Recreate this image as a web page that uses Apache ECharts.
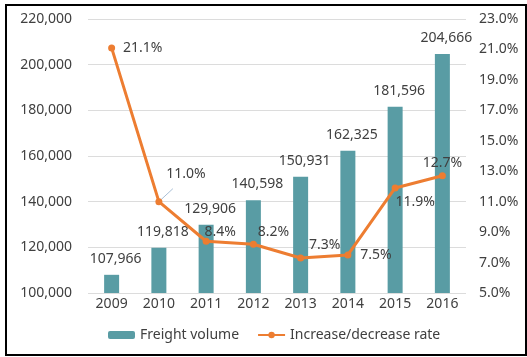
<!DOCTYPE html>
<html>
<head>
<meta charset="utf-8">
<script src="https://cdn.jsdelivr.net/npm/echarts@6/dist/echarts.min.js"></script>
<style>
  html, body { margin: 0; padding: 0; background: #fff; }
  #chart { width: 527px; height: 357px; }
</style>
</head>
<body>
<div id="chart"></div>
<script>
// Yearly freight volume with its year-on-year change
const years = ['2009', '2010', '2011', '2012', '2013', '2014', '2015', '2016'];
const freightVolume = [107966, 119818, 129906, 140598, 150931, 162325, 181596, 204666];
const changeRate = [21.1, 11.0, 8.4, 8.2, 7.3, 7.5, 11.9, 12.7];

// Rate label nudges (dx, dy) from each point, in pixels
const rateLabelShift = [[31, 0], [27, -28], [14, -9], [20, -12], [24, -13], [28, 0], [20, 14], [0, -13]];

const FONT = 'Noto Sans';
const TEXT = '#404040';
const TEAL = '#599CA4';
const ORANGE = '#ED7D31';

const chart = echarts.init(document.getElementById('chart'), null, { renderer: 'canvas' });

chart.setOption({
  animation: false,
  textStyle: { fontFamily: FONT },
  grid: { left: 88, right: 61, top: 19, bottom: 64 },
  legend: {
    left: 103,
    bottom: 10,
    itemGap: 18,
    itemWidth: 27,
    itemHeight: 8,
    textStyle: { fontFamily: FONT, fontSize: 14, color: TEXT },
    data: [
      { name: 'Freight volume', itemStyle: { color: TEAL } },
      { name: 'Increase/decrease rate' }
    ]
  },
  xAxis: {
    type: 'category',
    data: years,
    axisLine: { show: false },
    axisTick: { show: false },
    axisLabel: { fontFamily: FONT, fontSize: 14, color: TEXT, margin: 4 }
  },
  yAxis: [
    {
      type: 'value',
      min: 100000,
      max: 220000,
      interval: 20000,
      axisLine: { show: false },
      axisTick: { show: false },
      splitLine: { lineStyle: { color: '#dcdcdc', width: 1 } },
      axisLabel: {
        fontFamily: FONT, fontSize: 14, color: TEXT, margin: 16,
        formatter: v => v.toLocaleString('en-US')
      }
    },
    {
      type: 'value',
      min: 5,
      max: 23,
      interval: 1,
      axisLine: { show: false },
      axisTick: { show: false },
      splitLine: { show: false },
      axisLabel: {
        fontFamily: FONT, fontSize: 14, color: TEXT, margin: 13,
        formatter: v => (Math.round(v) % 2 === 1 ? v.toFixed(1) + '%' : '')
      }
    }
  ],
  series: [
    {
      name: 'Freight volume',
      type: 'bar',
      yAxisIndex: 0,
      barWidth: 15,
      data: freightVolume,
      itemStyle: { color: TEAL },
      label: {
        show: true,
        position: 'top',
        distance: 9,
        offset: [4, 0],
        fontFamily: FONT,
        fontSize: 14,
        color: TEXT,
        formatter: p => p.value.toLocaleString('en-US')
      }
    },
    {
      name: 'Increase/decrease rate',
      type: 'line',
      yAxisIndex: 1,
      data: changeRate,
      z: 5,
      symbol: 'circle',
      symbolSize: 7,
      lineStyle: { color: ORANGE, width: 3 },
      itemStyle: { color: ORANGE },
      label: {
        show: true,
        position: 'inside',
        fontFamily: FONT,
        fontSize: 14,
        color: TEXT,
        formatter: p => p.value.toFixed(1) + '%'
      },
      labelLayout: p => ({ dx: rateLabelShift[p.dataIndex][0], dy: rateLabelShift[p.dataIndex][1] })
    }
  ],
  graphic: [
    {
      type: 'rect',
      silent: true,
      shape: { x: 6, y: 5, width: 520, height: 350 },
      style: { fill: 'none', stroke: '#000', lineWidth: 2 }
    }
  ]
});

// Thin guide from the 2010 point to its displaced label
const guideFrom = chart.convertToPixel({ xAxisIndex: 0, yAxisIndex: 1 }, [years[1], changeRate[1]]);
chart.setOption({
  graphic: [
    {
      type: 'rect',
      silent: true,
      shape: { x: 6, y: 5, width: 520, height: 350 },
      style: { fill: 'none', stroke: '#000', lineWidth: 2 }
    },
    {
      type: 'line',
      silent: true,
      z: 4,
      shape: { x1: guideFrom[0], y1: guideFrom[1], x2: guideFrom[0] + 14, y2: guideFrom[1] - 13 },
      style: { stroke: '#a9bfd6', lineWidth: 1 }
    }
  ]
});
</script>
</body>
</html>
